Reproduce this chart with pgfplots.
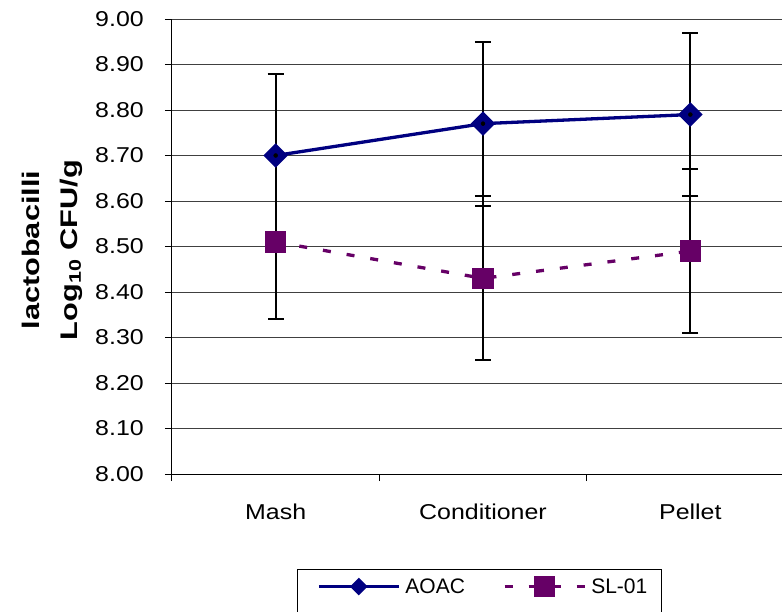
\documentclass[border=0pt]{standalone}
\usepackage{pgfplots}
\pgfplotsset{compat=1.18}
\usepackage{fontspec}
\setmainfont{Liberation Sans}
\definecolor{aoac}{HTML}{000080}
\definecolor{slo}{HTML}{660066}
\begin{document}
\begin{tikzpicture}
\begin{axis}[
  at={(0pt,0pt)}, anchor=south west,
  scale only axis,
  width=622pt, height=455pt,
  xmin=-0.5, xmax=2.5,
  ymin=8, ymax=9,
  axis lines*=left,
  axis line style={black, line width=1pt},
  tick align=outside,
  major tick length=7pt,
  tick style={black, line width=1pt},
  xtick={-0.5,0.5,1.5,2.5},
  xticklabels={},
  extra x ticks={0,1,2},
  extra x tick labels={Mash,Conditioner,Pellet},
  extra x tick style={major tick length=0pt, grid=none,
    tick label style={anchor=base, yshift=-45pt, inner sep=0pt}},
  ytick={8,8.1,...,9.01},
  /pgf/number format/assume math mode=true,
  yticklabel style={/pgf/number format/fixed, /pgf/number format/fixed zerofill, /pgf/number format/precision=2,
    anchor=east, inner sep=0pt, xshift=-21pt, font=\fontsize{21.5}{25}\selectfont, xscale=1.16},
  xticklabel style={font=\fontsize{21.5}{25}\selectfont, xscale=1.16},
  ymajorgrids,
  grid style={black!75, line width=0.8pt},
  ylabel={lactobacilli\\Log\textsubscript{10} CFU/g},
  ylabel style={at={(axis description cs:-0.1929,0.492)}, anchor=center, align=center,
    font=\fontsize{24}{38}\selectfont\bfseries, xscale=1.28},
  legend columns=2,
  legend style={at={(axis description cs:0.2331,-0.2473)}, anchor=west, draw=none, fill=none,
    inner sep=0pt, font=\fontsize{21}{25}\selectfont,
    nodes={inner xsep=5pt, inner ysep=2pt},
    /tikz/every even column/.append style={column sep=33pt}},
  legend image code/.code={\draw[mark repeat=2,mark phase=2,#1] plot coordinates {(0pt,0pt) (40pt,0pt) (80pt,0pt)};},
]
\addplot[aoac, line width=3.3pt, mark=square*, mark size=7.07pt, mark options={solid, rotate=45, fill=aoac, draw=none},
  legend image post style={mark size=4.6pt}]
  coordinates {(0,8.70) (1,8.77) (2,8.79)};
\addlegendentry{AOAC}
\addplot[forget plot, only marks, mark=none,
  error bars/.cd, y dir=both, y explicit,
  error bar style={black, line width=2pt},
  error mark options={black, rotate=90, mark size=8pt, line width=2pt}]
  coordinates {(0,8.70) +- (0,0.18) (1,8.77) +- (0,0.18) (2,8.79) +- (0,0.18)
               (0,8.51) += (0,0) -= (0,0.17) (1,8.43) +- (0,0.18) (2,8.49) +- (0,0.18)};
\addplot[slo, line width=3.3pt, dash pattern=on 8pt off 16pt, mark=square*, mark size=9pt, mark options={solid, fill=slo, draw=none}]
  coordinates {(0,8.51) (1,8.43) (2,8.49)};
\addlegendentry{SL-01}
\end{axis}
\draw[black, line width=1pt] (125pt,-95pt) rectangle (489pt,-150pt);
\pgfresetboundingbox
\useasboundingbox (-172pt,-137pt) rectangle (610pt,474pt);
\end{tikzpicture}
\end{document}
